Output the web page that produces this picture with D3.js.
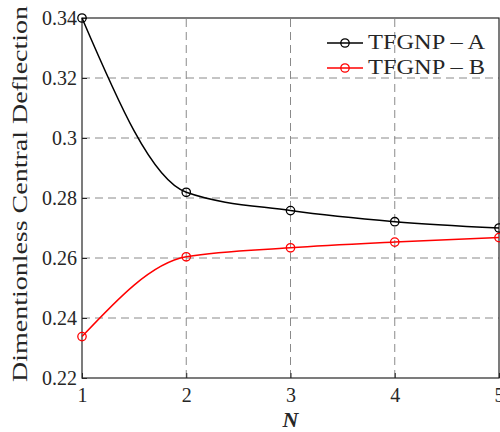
<!DOCTYPE html>
<html>
<head>
<meta charset="utf-8">
<script src="https://cdn.jsdelivr.net/npm/d3@7"></script>
</head>
<body style="margin:0; background:#fff">
<div id="chart"></div>
<script>
// datos
const nValues = [1, 2, 3, 4, 5]
const seriesA = [0.3400, 0.2819, 0.2758, 0.2721, 0.2700]
const seriesB = [0.2338, 0.2604, 0.2634, 0.2653, 0.2668]
const yTicks = [0.22, 0.24, 0.26, 0.28, 0.3, 0.32, 0.34]
const seriesNames = ["TFGNP \u2013 A", "TFGNP \u2013 B"]
const seriesColors = ["#000000", "#ff0000"]

const serif = "Liberation Serif"

const width = 500
const height = 432
const margin = { top: 18, bottom: 54, left: 82, right: 1 }

const svg = d3.select("#chart")
    .append("svg")
    .attr("width", width)
    .attr("height", height)

const x = d3.scaleLinear().domain([1, 5]).range([margin.left, width - margin.right])
const y = d3.scaleLinear().domain([0.22, 0.34]).range([height - margin.bottom, margin.top])

// rejilla punteada
const grid = svg.append("g").attr("class", "grid")
grid.selectAll("line.gx")
    .data(nValues.slice(1, -1))
    .enter().append("line")
    .attr("x1", d => x(d)).attr("x2", d => x(d))
    .attr("y1", y(0.22)).attr("y2", y(0.34))
    .attr("stroke", "#8a8a8a").attr("stroke-width", 1)
    .attr("stroke-dasharray", "8,5")
grid.selectAll("line.gy")
    .data(yTicks.slice(1, -1))
    .enter().append("line")
    .attr("x1", x(1)).attr("x2", x(5))
    .attr("y1", d => y(d)).attr("y2", d => y(d))
    .attr("stroke", "#8a8a8a").attr("stroke-width", 1)
    .attr("stroke-dasharray", "8,5")

// ejes
const xAxis = d3.axisBottom(x).tickValues(nValues).tickSize(-5).tickPadding(10).tickFormat(d3.format("d"))
const yAxis = d3.axisLeft(y).tickValues(yTicks).tickSize(-5).tickPadding(5).tickFormat(d => String(+d.toFixed(2)))

const xAxisGroup = svg.append("g")
    .attr("transform", `translate(0, ${y(0.22)})`)
    .call(xAxis)
const yAxisGroup = svg.append("g")
    .attr("transform", `translate(${x(1)}, 0)`)
    .call(yAxis)

;[xAxisGroup, yAxisGroup].forEach(g => {
    g.attr("font-family", serif).attr("font-size", 20)
    g.select(".domain").remove()
    g.selectAll(".tick line").attr("stroke", "#262626")
    g.selectAll(".tick text").attr("fill", "#262626")
})

// marco
svg.append("rect")
    .attr("x", x(1)).attr("y", y(0.34))
    .attr("width", x(5) - x(1)).attr("height", y(0.22) - y(0.34))
    .attr("fill", "none").attr("stroke", "#262626").attr("stroke-width", 1.2)

// series
const line = d3.line()
    .x((d, i) => x(nValues[i]))
    .y(d => y(d))
    .curve(d3.curveMonotoneX)

;[seriesA, seriesB].forEach((s, k) => {
    svg.append("path")
        .datum(s)
        .attr("fill", "none")
        .attr("stroke", seriesColors[k])
        .attr("stroke-width", 1.5)
        .attr("d", line)
    svg.selectAll(null)
        .data(s)
        .enter().append("circle")
        .attr("cx", (d, i) => x(nValues[i]))
        .attr("cy", d => y(d))
        .attr("r", 4.2)
        .attr("fill", "none")
        .attr("stroke", seriesColors[k])
        .attr("stroke-width", 1.3)
})

// leyenda
const legend = svg.append("g").attr("class", "legend")
seriesNames.forEach((name, k) => {
    const ly = 43 + k * 25
    legend.append("line")
        .attr("x1", 327).attr("x2", 363)
        .attr("y1", ly).attr("y2", ly)
        .attr("stroke", seriesColors[k]).attr("stroke-width", 1.5)
    legend.append("circle")
        .attr("cx", 345).attr("cy", ly).attr("r", 4.2)
        .attr("fill", "none").attr("stroke", seriesColors[k]).attr("stroke-width", 1.3)
    legend.append("text")
        .attr("x", 368).attr("y", ly + 6)
        .attr("font-family", serif)
        .attr("font-size", 21)
        .attr("fill", "#262626")
        .attr("textLength", 117)
        .attr("lengthAdjust", "spacingAndGlyphs")
        .text(name)
})

// titulos de ejes
svg.append("text")
    .attr("transform", `translate(27, ${(y(0.22) + y(0.34)) / 2 - 4}) rotate(-90)`)
    .attr("text-anchor", "middle")
    .attr("font-family", serif)
    .attr("font-size", 22)
    .attr("fill", "#262626")
    .attr("textLength", 376)
    .attr("lengthAdjust", "spacingAndGlyphs")
    .text("Dimentionless Central Deflection")

svg.append("text")
    .attr("x", (x(1) + x(5)) / 2)
    .attr("y", 427)
    .attr("text-anchor", "middle")
    .attr("font-family", serif)
    .attr("font-size", 22)
    .attr("font-weight", "bold")
    .attr("font-style", "italic")
    .attr("fill", "#262626")
    .text("N")
</script>
</body>
</html>
